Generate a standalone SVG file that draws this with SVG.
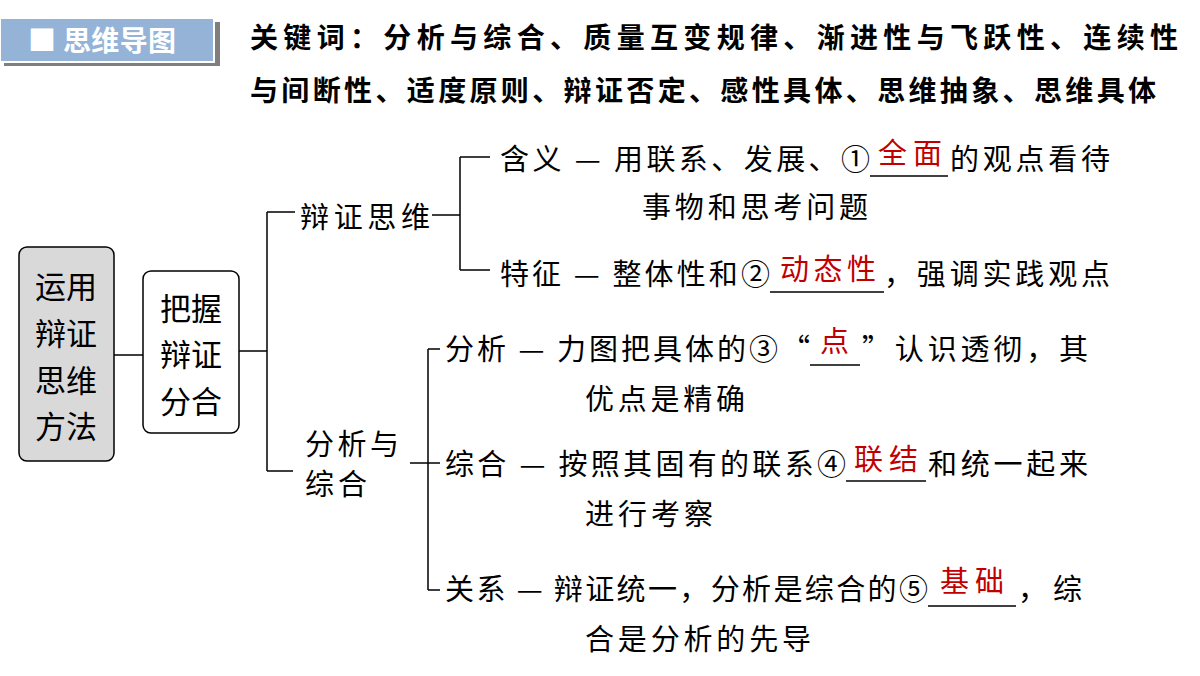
<svg xmlns="http://www.w3.org/2000/svg" width="1200" height="676" viewBox="0 0 1200 676">
<style>
text{font-family:"Noto Sans CJK SC","Noto Sans",sans-serif;fill:#000}
.t{font-size:29px}
.n{font-size:31px}
.k{font-size:28px;font-weight:bold}
.r{font-size:29px;fill:#c00000}
.ln{stroke:#000;stroke-width:1.5;fill:none}
.ul{stroke:#000;stroke-width:1.3}
.box{stroke:#000;stroke-width:1.5}
</style>
<rect width="1200" height="676" fill="#fff"/>
<g id="header">
<rect x="4" y="22" width="216" height="44" fill="#7f7f7f"/>
<rect x="0" y="18" width="214" height="44" fill="#95b3d7" stroke="#fff" stroke-width="2"/>
<text x="28" y="51" textLength="148" style="font-size:28px;font-weight:bold;fill:#fff">■ 思维导图</text>
</g>
<g id="keywords">
<text class="k" x="250" y="48" textLength="928">关键词：分析与综合、质量互变规律、渐进性与飞跃性、连续性</text>
<text class="k" x="250" y="101" textLength="906">与间断性、适度原则、辩证否定、感性具体、思维抽象、思维具体</text>
</g>
<g id="connectors">
<path class="ln" d="M114 355H143M239 351H267M267 212V471M267 212H295M267 471H293M432 215H460M460 157V270M460 157H490M460 270H490M410 463H428M428 349V590M428 349H440M428 463H440M428 590H440"/>
</g>
<g id="n1">
<rect class="box" x="19" y="247" width="95" height="214" rx="8" fill="#d9d9d9"/>
<text class="n" x="66" y="298" text-anchor="middle">运用</text>
<text class="n" x="66" y="345" text-anchor="middle">辩证</text>
<text class="n" x="66" y="392" text-anchor="middle">思维</text>
<text class="n" x="66" y="438" text-anchor="middle">方法</text>
</g>
<g id="n2">
<rect class="box" x="143" y="271" width="96" height="162" rx="8" fill="#fff"/>
<text class="n" x="191" y="320" text-anchor="middle">把握</text>
<text class="n" x="191" y="366" text-anchor="middle">辩证</text>
<text class="n" x="191" y="413" text-anchor="middle">分合</text>
</g>
<g id="n3"><text class="t" x="300" y="228" textLength="130">辩证思维</text></g>
<g id="n4">
<text class="t" x="500" y="170" textLength="370">含义 — 用联系、发展、①</text>
<line class="ul" x1="870" y1="176" x2="948" y2="176"/>
<text class="r" x="878" y="164" textLength="64">全面</text>
<text class="t" x="950" y="170" textLength="160">的观点看待</text>
<text class="t" x="642" y="218" textLength="226">事物和思考问题</text>
</g>
<g id="n5">
<text class="t" x="500" y="285" textLength="270">特征 — 整体性和②</text>
<line class="ul" x1="770" y1="292" x2="884" y2="292"/>
<text class="r" x="780" y="280" textLength="96">动态性</text>
<text class="t" x="884" y="285" textLength="226">，强调实践观点</text>
</g>
<g id="n6">
<text class="t" x="305" y="455" textLength="94">分析与</text>
<text class="t" x="305" y="495" textLength="62">综合</text>
</g>
<g id="n7">
<text class="t" x="445" y="360" textLength="365">分析 — 力图把具体的③“</text>
<line class="ul" x1="810" y1="365" x2="860" y2="365"/>
<text class="r" x="820" y="352" textLength="32">点</text>
<text class="t" x="862" y="360" textLength="226">”认识透彻，其</text>
<text class="t" x="585" y="410" textLength="160">优点是精确</text>
</g>
<g id="n8">
<text class="t" x="445" y="475" textLength="401">综合 — 按照其固有的联系④</text>
<line class="ul" x1="846" y1="481" x2="926" y2="481"/>
<text class="r" x="854" y="470" textLength="64">联结</text>
<text class="t" x="928" y="475" textLength="160">和统一起来</text>
<text class="t" x="585" y="525" textLength="128">进行考察</text>
</g>
<g id="n9">
<text class="t" x="445" y="600" textLength="483">关系 — 辩证统一，分析是综合的⑤</text>
<line class="ul" x1="928" y1="606" x2="1016" y2="606"/>
<text class="r" x="940" y="592" textLength="64">基础</text>
<text class="t" x="1018" y="600" textLength="64">，综</text>
<text class="t" x="585" y="650" textLength="226">合是分析的先导</text>
</g>
</svg>
